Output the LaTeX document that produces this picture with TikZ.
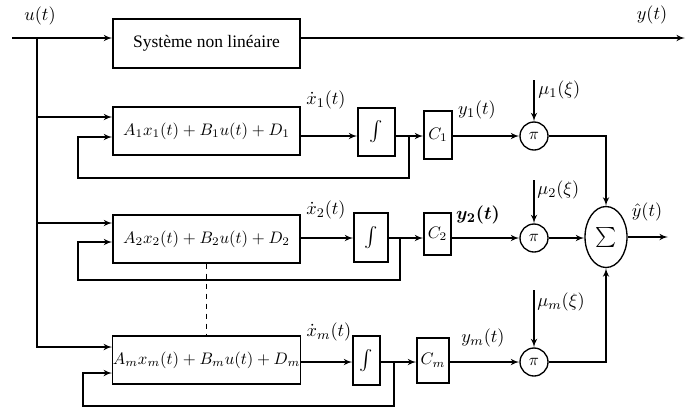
\documentclass[tikz,border=0pt]{standalone}
\usepackage{fontspec}
\setmainfont{Liberation Serif}
\usepackage{amsmath,bm}
\usepackage{tikz}
\usetikzlibrary{arrows,positioning,shapes.geometric}
\tikzstyle{sysbox}=[draw, minimum width=112.2pt, minimum height=29.4pt, inner sep=0pt]
\tikzstyle{modbox}=[draw, minimum width=112.2pt, minimum height=28.8pt, inner sep=0pt]
\tikzstyle{intbox}=[draw, minimum height=28.8pt, inner sep=0pt]
\tikzstyle{outbox}=[draw, inner sep=0pt]
\tikzstyle{mult}=[draw, circle, minimum size=16.8pt, inner sep=0pt]
\tikzstyle{summ}=[draw, ellipse, minimum width=25.2pt, minimum height=36.6pt, inner sep=0pt]
\tikzstyle{lbl}=[inner sep=1pt, font=\fontsize{11pt}{13pt}\selectfont]

\begin{document}
\begin{tikzpicture}[x=0.6pt,y=-0.6pt,>=latex',line width=0.8pt]
		    \useasboundingbox (0,0) rectangle (687,408);
		    \node [sysbox] (sys) at (206.5,43.5) {\fontsize{10.5pt}{12pt}\selectfont Système non linéaire};
		    \node [modbox] (A1) at (206.5,131) {$A_1x_1(t)+B_1u(t)+D_1$};
		    \node [modbox] (A2) at (206.5,239) {$A_2x_2(t)+B_2u(t)+D_2$};
		    \node [modbox] (Am) at (206.5,360) {$A_mx_m(t)+B_mu(t)+D_m$};
		    \node [intbox, minimum width=22.2pt] (I1) at (376.5,132) {\large$\int$};
		    \node [intbox, minimum width=20.4pt, minimum height=29.4pt] (I2) at (371,237.5) {\large$\int$};
		    \node [intbox, minimum width=16.2pt, minimum height=29.4pt] (Im) at (366.5,360.5) {\large$\int$};
		    \node [outbox, minimum width=16.8pt, minimum height=28.8pt] (C1) at (438,135) {$C_1$};
		    \node [outbox, minimum width=16.2pt, minimum height=25.2pt] (C2) at (437.5,234) {$C_2$};
		    \node [outbox, minimum width=19.2pt, minimum height=27pt] (Cm) at (433,360.5) {$C_m$};
		    \node [mult] (P1) at (534,136) {$\pi$};
		    \node [mult] (P2) at (534,238) {$\pi$};
		    \node [mult] (Pm) at (534,362) {$\pi$};
		    \node [summ] (S) at (606,237) {\large$\sum$};
		    % labels
		    \node [lbl] (lu) at (40,16) {$u(t)$};
		    \node [lbl] (ly) at (652,15) {$y(t)$};
		    \node [lbl] (ldx1) at (326,100) {$\dot x_1(t)$};
		    \node [lbl] (ldx2) at (326,210) {$\dot x_2(t)$};
		    \node [lbl] (ldxm) at (329,332) {$\dot x_m(t)$};
		    \node [lbl] (ly1) at (477,110) {$y_1(t)$};
		    \node [lbl] (ly2) at (478,215) {$\bm{y_2(t)}$};
		    \node [lbl] (lym) at (483,338) {$y_m(t)$};
		    \node [lbl, anchor=west] (lmu1) at (536,90) {$\mu_1(\xi)$};
		    \node [lbl, anchor=west] (lmu2) at (535,190) {$\mu_2(\xi)$};
		    \node [lbl, anchor=west] (lmum) at (535,302) {$\mu_m(\xi)$};
		    \node [lbl] (lyhat) at (647,212) {$\hat y(t)$};
		    % coordinates
		    \coordinate (in) at (12,38);
		    \coordinate (u0) at (37,38);
		    \coordinate (yout) at (685,38);
		    \coordinate (yhat) at (668,237);
		    \coordinate (j1) at (409,136);
		    \coordinate (j2) at (400,238);
		    \coordinate (jm) at (394,362);
		    \coordinate (fb1) at (78,178);
		    \coordinate (fb2) at (78,280);
		    \coordinate (fbm) at (83,406);
		    \coordinate (m1) at (534,80);
		    \coordinate (m2) at (534,180);
		    \coordinate (mm) at (534,290);
		    % connectors
		    \draw[->] (in) -- (in -| sys.west);
		    \draw[->] (sys.east |- in) -- (yout);
		    \draw[->] (u0) |- ([yshift=8.4pt]A1.west);
		    \draw[->] (u0) |- ([yshift=9.6pt]A2.west);
		    \draw[->] (u0) |- ([yshift=7.8pt]Am.west);
		    \draw[->] (A1.east |- P1) -- (I1.west |- P1);
		    \draw[->] (A2.east |- P2) -- (I2.west |- P2);
		    \draw[->] (Am.east |- Pm) -- (Im.west |- Pm);
		    \draw[->] (I1.east |- P1) -- (C1.west |- P1);
		    \draw[->] (I2.east |- P2) -- (C2.west |- P2);
		    \draw[->] (Im.east |- Pm) -- (Cm.west |- Pm);
		    \draw[->] (j1) |- (fb1) |- ([yshift=-3.6pt]A1.west);
		    \draw[->] (j2) |- (fb2) |- ([yshift=-1.8pt]A2.west);
		    \draw[->] (jm) |- (fbm) |- ([yshift=-7.8pt]Am.west);
		    \draw[->] (C1.east |- P1) -- (P1);
		    \draw[->] (C2.east |- P2) -- (P2);
		    \draw[->] (Cm.east |- Pm) -- (Pm);
		    \draw[->] (m1) -- (P1);
		    \draw[->] (m2) -- (P2);
		    \draw[->] (mm) -- (Pm);
		    \draw[->] (P1) -| (S);
		    \draw[->] (P2) -- (P2 -| S.west);
		    \draw[->] (Pm) -| (S);
		    \draw[->] (S) -- (yhat);
		    \draw[dashed] (A2.south) -- (Am.north);
		\end{tikzpicture}
\end{document}
